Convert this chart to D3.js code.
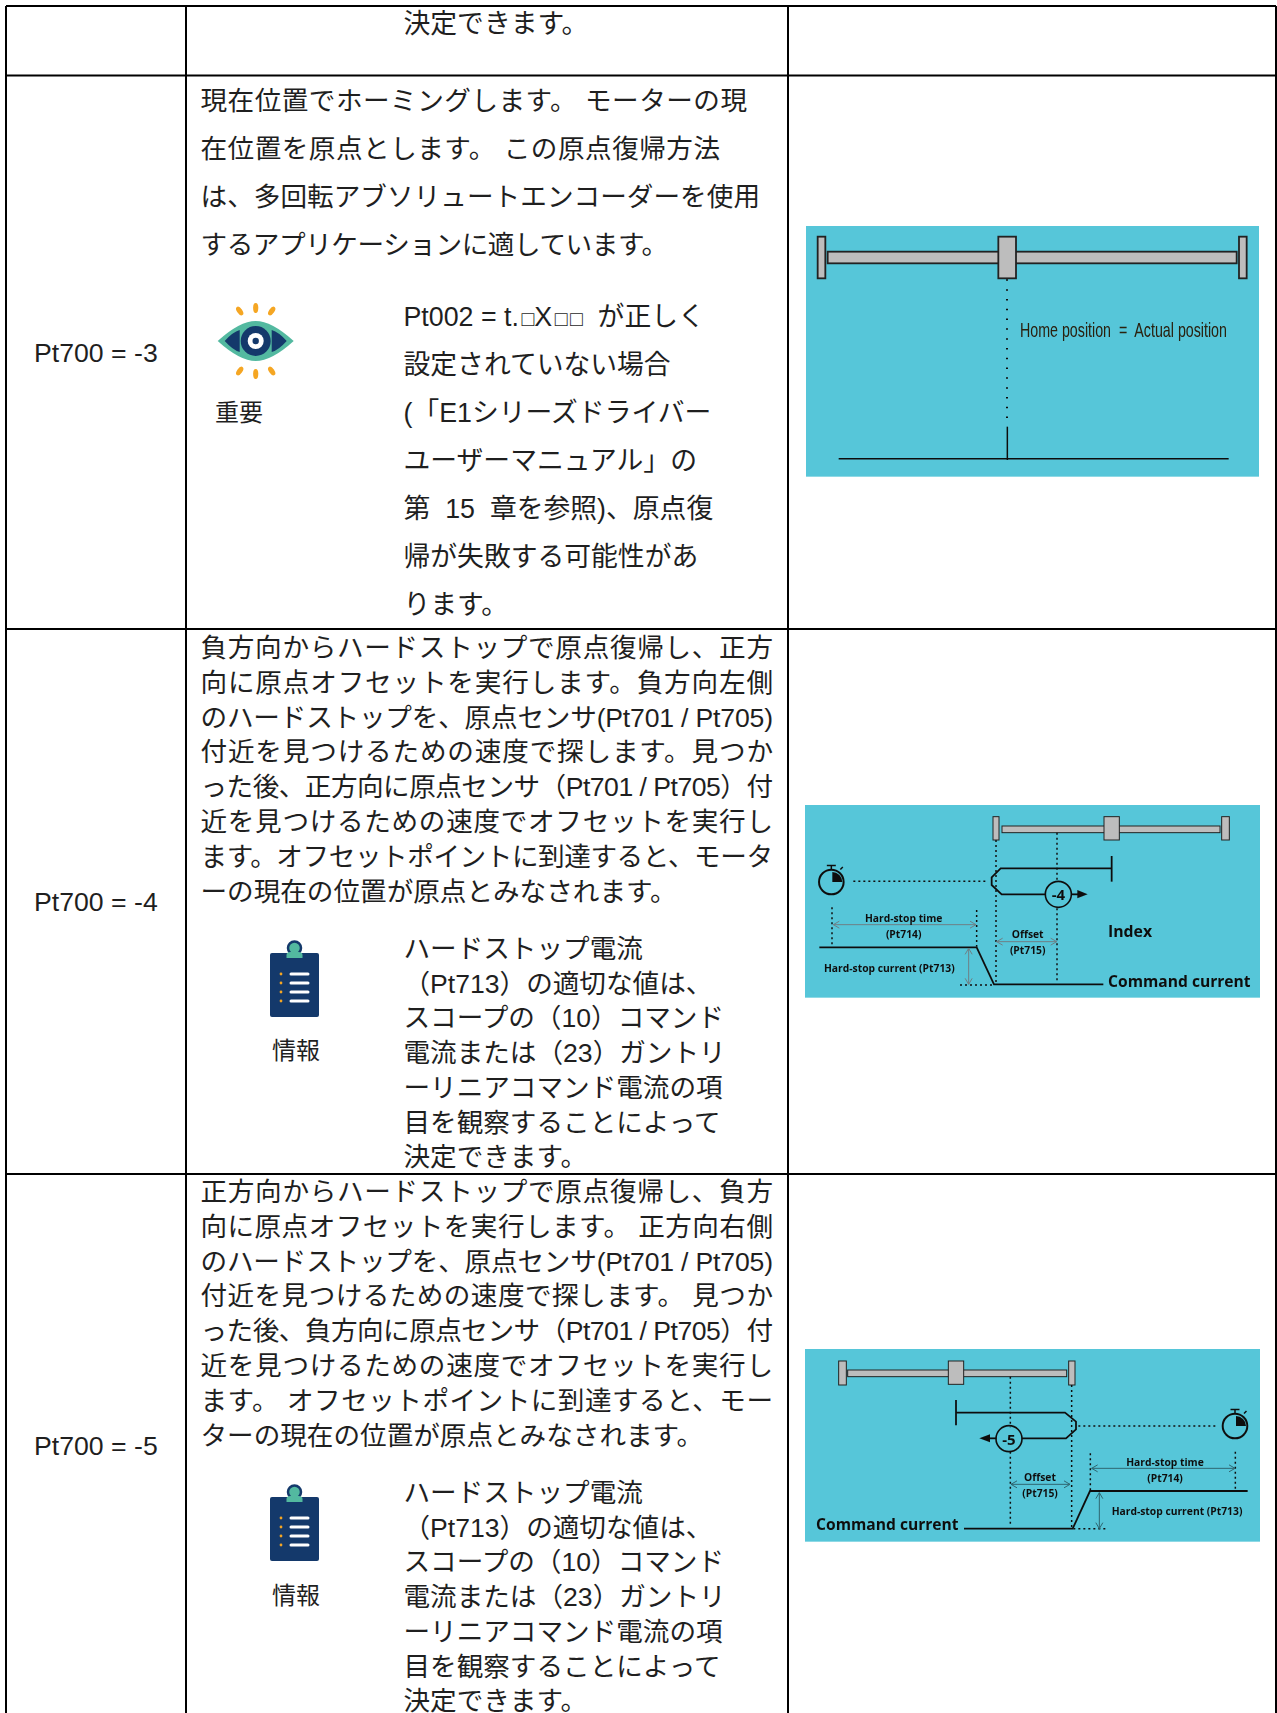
<!DOCTYPE html>
<meta charset="utf-8">
<style>
body { margin: 0; background: #fff; }
svg { display: block; }
text { font-family: "Liberation Sans", "Noto Sans CJK JP", sans-serif; fill: #1f1f1f; white-space: pre; text-spacing-trim: space-all; }
.dia text { font-family: "Open Sans", "Noto Sans", sans-serif; font-weight: 700; fill: #111; }
</style>
<body></body>
<script src="https://cdnjs.cloudflare.com/ajax/libs/d3/7.8.5/d3.min.js"></script>
<script>

// table contents
const modes = ["Pt700 = -3", "Pt700 = -4", "Pt700 = -5"];

const carryLine = ["決定できます。"];

const descMinus3 = [
  "現在位置でホーミングします。 モーターの現",
  "在位置を原点とします。 この原点復帰方法",
  "は、多回転アブソリュートエンコーダーを使用",
  "するアプリケーションに適しています。"
];
const noteMinus3 = [
  "Pt002 = t.□X□□  が正しく",
  "設定されていない場合",
  "(「E1シリーズドライバー",
  "ユーザーマニュアル」の",
  "第  15  章を参照)、原点復",
  "帰が失敗する可能性があ",
  "ります。"
];
const descMinus4 = [
  "負方向からハードストップで原点復帰し、正方",
  "向に原点オフセットを実行します。負方向左側",
  "のハードストップを、原点センサ(Pt701 / Pt705)",
  "付近を見つけるための速度で探します。見つか",
  "った後、正方向に原点センサ（Pt701 / Pt705）付",
  "近を見つけるための速度でオフセットを実行し",
  "ます。オフセットポイントに到達すると、モータ",
  "ーの現在の位置が原点とみなされます。"
];
const descMinus5 = [
  "正方向からハードストップで原点復帰し、負方",
  "向に原点オフセットを実行します。 正方向右側",
  "のハードストップを、原点センサ(Pt701 / Pt705)",
  "付近を見つけるための速度で探します。 見つか",
  "った後、負方向に原点センサ（Pt701 / Pt705）付",
  "近を見つけるための速度でオフセットを実行し",
  "ます。 オフセットポイントに到達すると、モー",
  "ターの現在の位置が原点とみなされます。"
];
const noteInfo = [
  "ハードストップ電流",
  "（Pt713）の適切な値は、",
  "スコープの（10）コマンド",
  "電流または（23）ガントリ",
  "ーリニアコマンド電流の項",
  "目を観察することによって",
  "決定できます。"
];

// right ends of the first description's lines
const descMinus3Ends = [747, 720, 760, 668];

// diagram marks, in a 3x grid of each picture's crop
const d1Boxes = [[113,80,136,205],[1377,80,1400,205],[143,125,1370,160],[655,80,708,205]];
const d1Dots = [[681,208,681,640]];
const d1Solid = [[[682,650],[682,750]],[[176,746],[1346,746]]];

const d2Boxes = [[636,108,1290,128],[609,80,627,150],[1295,80,1318,150],[942,80,988,150]];
const d2Dots = [[618,150,618,580],[801,128,801,272],[801,355,801,575],[126,352,126,465],[560,360,560,470],[190,274,595,274],[510,585,612,585]];
const d2Solid = [
  [[965,235],[632,235],[605,262],[605,285],[635,313],[765,313]],
  [[965,198],[965,275]],
  [[845,313],[868,313]],
  [[88,472],[560,472],[612,583],[940,583]]
];
const d2Arrows = [[130,404,558,404],[620,455,800,455],[536,475,536,583]];
const d2Labels = [
  ["Hard-stop time",341,395,10.3],["(Pt714)",341,443,10.3],["Offset",713,443,10.3],["(Pt715)",713,491,10.3],
  ["Hard-stop current (Pt713)",298,545,10.3],["Index",1020,441,15.8],["Command current",1168,592,15.6]
];

const d3Boxes = [[173,90,830,110],[146,63,169,135],[836,63,855,135],[475,63,521,133]];
const d3Dots = [[845,135,845,565],[661,110,661,262],[661,335,661,560],[901,340,901,450],[1336,335,1336,450],[865,258,1285,258],[850,566,955,566]];
const d3Solid = [
  [[498,218],[825,218],[858,245],[858,268],[828,295],[695,295]],
  [[498,180],[498,256]],
  [[620,295],[598,295]],
  [[522,566],[848,566],[900,453],[1373,453]]
];
const d3Arrows = [[905,385,1335,385],[663,433,840,433],[928,458,928,566]];
const d3Labels = [
  ["Hard-stop time",1125,377,10.3],["(Pt714)",1125,425,10.3],["Offset",750,423,10.3],["(Pt715)",750,471,10.3],
  ["Hard-stop current (Pt713)",1161,525,10.3],["Command current",292,570,15.6]
];

const colEdges = [6, 186, 788, 1276];
const rowEdges = [6, 75.5, 629, 1174];
const pageH = 1713;

const svg = d3.select("body").append("svg").attr("width", 1277).attr("height", pageH);

svg.append("defs").append("filter").attr("id", "soft")
  .append("feGaussianBlur").attr("stdDeviation", 0.4);

// text blocks; right is a common right edge or one end per line
function block(lines, x, y, step, size, right) {
  const g = svg.append("g").attr("font-size", size);
  g.selectAll("text").data(lines).enter().append("text")
    .attr("x", x)
    .attr("y", (d, i) => y + i * step)
    .each(function(d, i) {
      const sel = d3.select(this);
      const end = Array.isArray(right) ? right[i] : (i < lines.length - 1 ? right : null);
      if (end) sel.attr("textLength", end - x).attr("lengthAdjust", "spacing");
      // the reference sets the placeholder boxes smaller than the text
      d.split(/(□)/).filter(s => s).forEach(s => {
        const t = sel.append("tspan").text(s);
        if (s === "□") t.attr("font-size", 21).attr("dx", 2.6);
      });
    });
}

block(carryLine, 403.5, 33, 0, 26.8);

block(descMinus3, 200.5, 110, 48.05, 26.6, descMinus3Ends);
block(noteMinus3, 403.5, 326, 48.05, 26.8);
block(descMinus4, 200.5, 657, 34.8, 26.6, 773);
block(noteInfo, 403.5, 958, 34.7, 26.6);
block(descMinus5, 200.5, 1201, 34.8, 26.6, 773);
block(noteInfo, 403.5, 1502, 34.7, 26.6);

svg.selectAll("text.mode").data(modes).enter().append("text")
  .attr("class", "mode")
  .attr("x", 34)
  .attr("y", (d, i) => [362, 911, 1455][i])
  .attr("font-size", 26.67)
  .text(d => d);

svg.append("text").attr("x", 215).attr("y", 421).attr("font-size", 24).text("重要");
[1059, 1604].forEach(y => {
  svg.append("text").attr("x", 272).attr("y", y).attr("font-size", 24).text("情報");
});

// table rules
const rules = svg.append("g").attr("stroke", "#000").attr("stroke-width", 2);
rules.selectAll("line.h").data(rowEdges).enter().append("line")
  .attr("class", "h")
  .attr("x1", colEdges[0]).attr("x2", colEdges[3])
  .attr("y1", d => d).attr("y2", d => d);
rules.selectAll("line.v").data(colEdges).enter().append("line")
  .attr("class", "v")
  .attr("x1", d => d).attr("x2", d => d)
  .attr("y1", rowEdges[0]).attr("y2", pageH);

// diagrams
const lineGen = d3.line();

function diagram(opt) {
  const x = d3.scaleLinear().domain([0, 3]).range([opt.ox, opt.ox + 1]);
  const y = d3.scaleLinear().domain([0, 3]).range([opt.oy, opt.oy + 1]);
  const g = svg.append("g").attr("class", "dia").attr("filter", "url(#soft)");

  g.append("rect")
    .attr("x", x(opt.bg[0])).attr("y", y(opt.bg[1]))
    .attr("width", x(opt.bg[2]) - x(opt.bg[0])).attr("height", y(opt.bg[3]) - y(opt.bg[1]))
    .attr("fill", "#56c6d9");

  g.selectAll("rect.box").data(opt.boxes).enter().append("rect")
    .attr("class", "box")
    .attr("x", d => x(d[0])).attr("y", d => y(d[1]))
    .attr("width", d => x(d[2]) - x(d[0])).attr("height", d => y(d[3]) - y(d[1]))
    .attr("fill", "#bdbdbd").attr("stroke", "#222").attr("stroke-width", opt.boxStroke);

  g.selectAll("line.dot").data(opt.dots).enter().append("line")
    .attr("class", "dot")
    .attr("x1", d => x(d[0])).attr("y1", d => y(d[1]))
    .attr("x2", d => x(d[2])).attr("y2", d => y(d[3]))
    .attr("stroke", "#111").attr("stroke-width", opt.dotW)
    .attr("stroke-dasharray", opt.dash);

  g.selectAll("path.solid").data(opt.solid).enter().append("path")
    .attr("class", "solid")
    .attr("d", d => lineGen(d.map(p => [x(p[0]), y(p[1])])))
    .attr("fill", "none").attr("stroke", "#111").attr("stroke-width", opt.lineW);

  (opt.arrows || []).forEach(a => {
    const x1 = x(a[0]), y1 = y(a[1]), x2 = x(a[2]), y2 = y(a[3]);
    const horiz = y1 === y2, h = 6, w = 3.5;
    const head = (px, py, s) => horiz
      ? [[px + s * h, py - w], [px, py], [px + s * h, py + w]]
      : [[px - w, py + s * h], [px, py], [px + w, py + s * h]];
    [[[x1, y1], [x2, y2]], head(x1, y1, 1), head(x2, y2, -1)].forEach(p => {
      g.append("path").attr("d", lineGen(p)).attr("fill", "none")
        .attr("stroke", opt.arrowCol).attr("stroke-width", 1);
    });
  });

  (opt.labels || []).forEach(l => {
    g.append("text").attr("x", x(l[1])).attr("y", y(l[2]))
      .attr("text-anchor", "middle").attr("font-size", l[3]).text(l[0]);
  });

  if (opt.badge) {
    g.append("circle").attr("cx", x(opt.badge[1])).attr("cy", y(opt.badge[2])).attr("r", 13)
      .attr("fill", "none").attr("stroke", "#111").attr("stroke-width", 1.6);
    g.append("text").attr("x", x(opt.badge[1])).attr("y", y(opt.badge[2]) + 6)
      .attr("text-anchor", "middle").attr("font-size", 15).text(opt.badge[0]);
    g.append("path").attr("fill", "#111")
      .attr("d", lineGen(opt.badgeHead.map(p => [x(p[0]), y(p[1])])) + "Z");
  }

  if (opt.clock) {
    const cx = x(opt.clock[0]), cy = y(opt.clock[1]);
    g.append("circle").attr("cx", cx).attr("cy", cy).attr("r", 12.3)
      .attr("fill", "none").attr("stroke", "#111").attr("stroke-width", 2);
    g.append("path").attr("d", `M${cx - 4.5},${cy - 16.5}h9M${cx},${cy - 16.5}v4M${cx + 9},${cy - 12.5}l2.5,-2.5`)
      .attr("stroke", "#111").attr("stroke-width", 1.5).attr("fill", "none");
    g.append("path").attr("fill", "#111")
      .attr("d", d3.arc().innerRadius(0).outerRadius(10).startAngle(0).endAngle(Math.PI / 2)())
      .attr("transform", `translate(${cx + 1},${cy})`);
  }
  return g;
}

const d1 = diagram({
  ox: 780, oy: 210, bg: [78, 48, 1437, 800],
  boxes: d1Boxes, boxStroke: 1.8, dots: d1Dots, dash: "1.5 8.3", dotW: 2, solid: d1Solid, lineW: 1.5
});
const homeLabel = d1.append("text")
  .attr("font-size", 21)
  .style("font-family", '"Liberation Sans Narrow", "Liberation Sans", sans-serif')
  .style("font-weight", 400).style("fill", "#2a2010")
  .text("Home position  =  Actual position");
homeLabel.attr("transform", `translate(1020,337) scale(${207 / homeLabel.node().getComputedTextLength()},1)`);

diagram({
  ox: 790, oy: 790, bg: [45, 45, 1410, 623],
  boxes: d2Boxes, boxStroke: 1, dots: d2Dots, dash: "2 3", dotW: 1.5, solid: d2Solid, lineW: 1.8,
  arrows: d2Arrows, arrowCol: "#6f7f85", labels: d2Labels,
  badge: ["-4", 805, 313], badgeHead: [[862, 300], [893, 313], [862, 325]],
  clock: [124, 276]
});

diagram({
  ox: 790, oy: 1340, bg: [45, 27, 1410, 605],
  boxes: d3Boxes, boxStroke: 1, dots: d3Dots, dash: "2 3", dotW: 1.5, solid: d3Solid, lineW: 1.8,
  arrows: d3Arrows, arrowCol: "#2f6670", labels: d3Labels,
  badge: ["-5", 657, 296], badgeHead: [[600, 283], [568, 295], [600, 307]],
  clock: [1335, 258]
});

// icons
function eyeIcon(cx, cy) {
  const g = svg.append("g").attr("transform", `translate(${cx},${cy})`);
  g.append("path").attr("d", "M-38,0Q-16,-20 0,-20Q16,-20 38,0Q16,20 0,20Q-16,20 -38,0Z").attr("fill", "#53b9a0");
  g.append("path").attr("d", "M-31,0Q-23,-9 -16,-11V11Q-23,9 -31,0ZM31,0Q23,-9 16,-11V11Q23,9 31,0Z").attr("fill", "#14396b");
  g.append("circle").attr("r", 15).attr("fill", "#14396b");
  g.append("circle").attr("r", 8).attr("fill", "#fff");
  g.append("circle").attr("r", 3.2).attr("fill", "#14396b");
  [[-16, -30, -35], [0, -33, 0], [16, -30, 35], [-16, 30, 35], [0, 33, 0], [16, 30, -35]].forEach(r => {
    g.append("ellipse").attr("rx", 2.6).attr("ry", 5).attr("fill", "#f5a623")
      .attr("transform", `translate(${r[0]},${r[1]}) rotate(${r[2]})`);
  });
}
eyeIcon(255.7, 341);

function boardIcon(ox, oy) {
  const g = svg.append("g").attr("transform", `translate(${ox},${oy})`);
  g.append("circle").attr("cx", 0).attr("cy", -25).attr("r", 6.5).attr("fill", "#53b9a0").attr("stroke", "#14396b").attr("stroke-width", 2.5);
  g.append("rect").attr("x", -24.5).attr("y", -20).attr("width", 49).attr("height", 64).attr("rx", 2).attr("fill", "#14396b");
  g.append("path").attr("d", "M-8,-15V-18Q-8,-21 -4,-21H4Q8,-21 8,-18V-15Z").attr("fill", "#53b9a0");
  [1, 10, 19, 28].forEach(d => {
    g.append("rect").attr("x", -5).attr("y", d - 1.5).attr("width", 20).attr("height", 3).attr("rx", 1.5).attr("fill", "#fff");
    g.append("circle").attr("cx", -13.5).attr("cy", d).attr("r", 1.4).attr("fill", "#f5a623");
  });
}
boardIcon(294.5, 973);
boardIcon(294.5, 1517);

</script>
